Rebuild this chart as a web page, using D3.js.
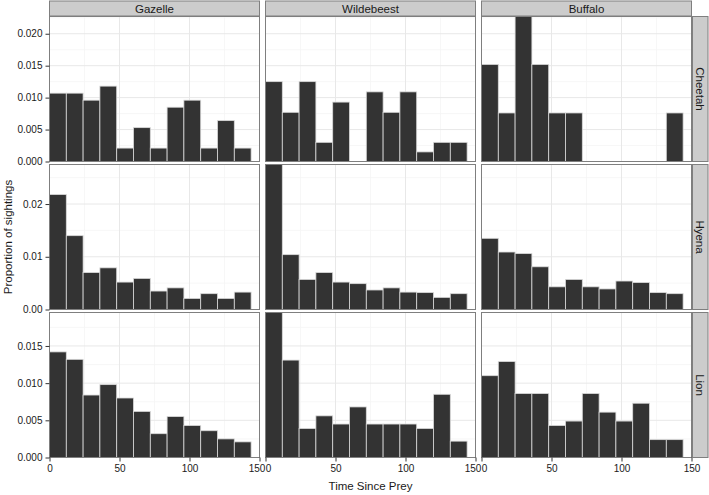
<!DOCTYPE html>
<html>
<head>
<meta charset="utf-8">
<script src="https://cdn.jsdelivr.net/npm/d3@7"></script>
<style>
  html, body { margin: 0; padding: 0; background: #fff; }
  svg { display: block; }
  text { font-family: "Liberation Sans", Arial, sans-serif; }
</style>
</head>
<body>
<svg id="chart" width="709" height="495"></svg>
<script>
// ---- Data ----
const prey = ["Gazelle", "Wildebeest", "Buffalo"];
const predators = ["Cheetah", "Hyena", "Lion"];
const binStart = [0, 12, 24, 36, 48, 60, 72, 84, 96, 108, 120, 132];
const binWidth = 12;

const gazelleCheetah    = [0.0107,0.0107,0.0096,0.0118,0.0021,0.0053,0.0021,0.0085,0.0096,0.0021,0.0064,0.0021];
const wildebeestCheetah = [0.0125,0.0077,0.0125,0.0030,0.0093,0.0000,0.0109,0.0077,0.0109,0.0015,0.0030,0.0030];
const buffaloCheetah    = [0.0152,0.0076,0.0227,0.0152,0.0076,0.0076,0.0000,0.0000,0.0000,0.0000,0.0000,0.0076];

const gazelleHyena      = [0.0218,0.0140,0.0070,0.0079,0.0052,0.0059,0.0035,0.0041,0.0021,0.0030,0.0021,0.0033];
const wildebeestHyena   = [0.0275,0.0104,0.0057,0.0070,0.0052,0.0049,0.0037,0.0041,0.0033,0.0032,0.0023,0.0030];
const buffaloHyena      = [0.0135,0.0109,0.0106,0.0081,0.0043,0.0057,0.0043,0.0039,0.0054,0.0051,0.0032,0.0030];

const gazelleLion       = [0.0142,0.0132,0.0084,0.0098,0.0080,0.0062,0.0032,0.0055,0.0043,0.0036,0.0025,0.0021];
const wildebeestLion    = [0.0195,0.0131,0.0039,0.0056,0.0045,0.0068,0.0045,0.0045,0.0045,0.0039,0.0085,0.0022];
const buffaloLion       = [0.0110,0.0129,0.0086,0.0086,0.0043,0.0049,0.0086,0.0061,0.0049,0.0073,0.0024,0.0024];

const xTicks = [0, 50, 100, 150];
const xMinor = [25, 75, 125];
const yTicksCheetah = [0, 0.005, 0.010, 0.015, 0.020];
const yTicksHyena   = [0, 0.01, 0.02];
const yTicksLion    = [0, 0.005, 0.010, 0.015];
const yMinorCheetah = [0.0025, 0.0075, 0.0125, 0.0175, 0.0225];
const yMinorHyena   = [0.005, 0.015, 0.025];
const yMinorLion    = [0.0025, 0.0075, 0.0125, 0.0175];
const yFormats = [".3f", ".2f", ".3f"];

const xLabel = "Time Since Prey";
const yLabel = "Proportion of sightings";

const grid = [
  [gazelleCheetah, wildebeestCheetah, buffaloCheetah],
  [gazelleHyena, wildebeestHyena, buffaloHyena],
  [gazelleLion, wildebeestLion, buffaloLion]
];
const yTicks = [yTicksCheetah, yTicksHyena, yTicksLion];
const yMinor = [yMinorCheetah, yMinorHyena, yMinorLion];

// ---- Layout ----
const svg = d3.select("#chart");
const colX = [49.5, 265.5, 481.5];
const panelW = 210;
const rowY = [16.5, 164.5, 312.5];
const panelH = 145;
const stripTop = 1, stripH = 15;
const stripRightX = 692.5, stripW = 15.5;

const x = d3.scaleLinear().domain([0, 150]);

predators.forEach((pred, r) => {
  const rowMax = d3.max(grid[r], arr => d3.max(arr));
  const y = d3.scaleLinear().domain([0, rowMax]).range([rowY[r] + panelH, rowY[r]]);

  prey.forEach((pr, c) => {
    const xs = x.copy().range([colX[c], colX[c] + panelW]);
    const g = svg.append("g");

    g.append("rect").attr("x", colX[c]).attr("y", rowY[r])
      .attr("width", panelW).attr("height", panelH).attr("fill", "#fff");

    // minor grid
    g.selectAll(".xminor").data(xMinor).enter().append("line")
      .attr("x1", d => xs(d)).attr("x2", d => xs(d))
      .attr("y1", rowY[r]).attr("y2", rowY[r] + panelH)
      .attr("stroke", "#f5f5f5").attr("stroke-width", 0.8);
    g.selectAll(".yminor").data(yMinor[r].filter(v => v <= rowMax)).enter().append("line")
      .attr("x1", colX[c]).attr("x2", colX[c] + panelW)
      .attr("y1", d => y(d)).attr("y2", d => y(d))
      .attr("stroke", "#f5f5f5").attr("stroke-width", 0.8);
    // major grid
    g.selectAll(".xmajor").data(xTicks).enter().append("line")
      .attr("x1", d => xs(d)).attr("x2", d => xs(d))
      .attr("y1", rowY[r]).attr("y2", rowY[r] + panelH)
      .attr("stroke", "#e8e8e8").attr("stroke-width", 1);
    g.selectAll(".ymajor").data(yTicks[r]).enter().append("line")
      .attr("x1", colX[c]).attr("x2", colX[c] + panelW)
      .attr("y1", d => y(d)).attr("y2", d => y(d))
      .attr("stroke", "#e8e8e8").attr("stroke-width", 1);

    // bars
    const vals = grid[r][c];
    g.selectAll(".bar").data(binStart.map((b, i) => ({ b, v: vals[i] })).filter(d => d.v > 0))
      .enter().append("rect")
      .attr("x", d => xs(d.b))
      .attr("width", d => xs(d.b + binWidth) - xs(d.b))
      .attr("y", d => y(d.v))
      .attr("height", d => y(0) - y(d.v))
      .attr("fill", "#333333")
      .attr("stroke", "#d9d9d9")
      .attr("stroke-width", 0.8);

    // panel border
    g.append("rect").attr("x", colX[c]).attr("y", rowY[r])
      .attr("width", panelW).attr("height", panelH)
      .attr("fill", "none").attr("stroke", "#7f7f7f").attr("stroke-width", 1);

    // top strips
    if (r === 0) {
      svg.append("rect").attr("x", colX[c]).attr("y", stripTop)
        .attr("width", panelW).attr("height", stripH)
        .attr("fill", "#cccccc").attr("stroke", "#7f7f7f").attr("stroke-width", 1);
      svg.append("text").attr("x", colX[c] + panelW / 2).attr("y", stripTop + stripH / 2 + 4)
        .attr("text-anchor", "middle").attr("font-size", 11.5).attr("fill", "#1a1a1a").text(pr);
    }

    // x axis on bottom row
    if (r === predators.length - 1) {
      const ax = svg.append("g").attr("transform", `translate(0,${rowY[r] + panelH})`)
        .call(d3.axisBottom(xs).tickValues(xTicks).tickSize(4).tickPadding(3).tickFormat(d3.format("d")));
      ax.select(".domain").remove();
      ax.selectAll(".tick line").attr("stroke", "#333");
      ax.selectAll(".tick text").attr("font-size", 10).attr("fill", "#1a1a1a")
        .style("font-family", '"Liberation Sans", Arial, sans-serif')
        .attr("dx", d => {
          if (d === 150 && c < prey.length - 1) return -3;
          if (d === 0 && c > 0) return 2.6;
          return 0;
        });
    }

    // y axis on first column
    if (c === 0) {
      const ay = svg.append("g").attr("transform", `translate(${colX[0]},0)`)
        .call(d3.axisLeft(y).tickValues(yTicks[r]).tickSize(4).tickPadding(3).tickFormat(d3.format(yFormats[r])));
      ay.select(".domain").remove();
      ay.selectAll(".tick line").attr("stroke", "#333");
      ay.selectAll(".tick text").attr("font-size", 10).attr("fill", "#1a1a1a")
        .style("font-family", '"Liberation Sans", Arial, sans-serif');
    }
  });

  // right strip
  svg.append("rect").attr("x", stripRightX).attr("y", rowY[r])
    .attr("width", stripW).attr("height", panelH)
    .attr("fill", "#cccccc").attr("stroke", "#7f7f7f").attr("stroke-width", 1);
  const cx = stripRightX + stripW / 2, cy = rowY[r] + panelH / 2;
  svg.append("text").attr("transform", `translate(${cx - 4},${cy}) rotate(90)`)
    .attr("text-anchor", "middle").attr("font-size", 11.5).attr("fill", "#1a1a1a").text(pred);
});

// axis titles
svg.append("text").attr("x", (colX[0] + colX[2] + panelW) / 2).attr("y", 490)
  .attr("text-anchor", "middle").attr("font-size", 11.5).attr("fill", "#1a1a1a").text(xLabel);
svg.append("text").attr("transform", `translate(12,${(rowY[0] + rowY[2] + panelH) / 2}) rotate(-90)`)
  .attr("text-anchor", "middle").attr("font-size", 11.5).attr("fill", "#1a1a1a").text(yLabel);
</script>
</body>
</html>
